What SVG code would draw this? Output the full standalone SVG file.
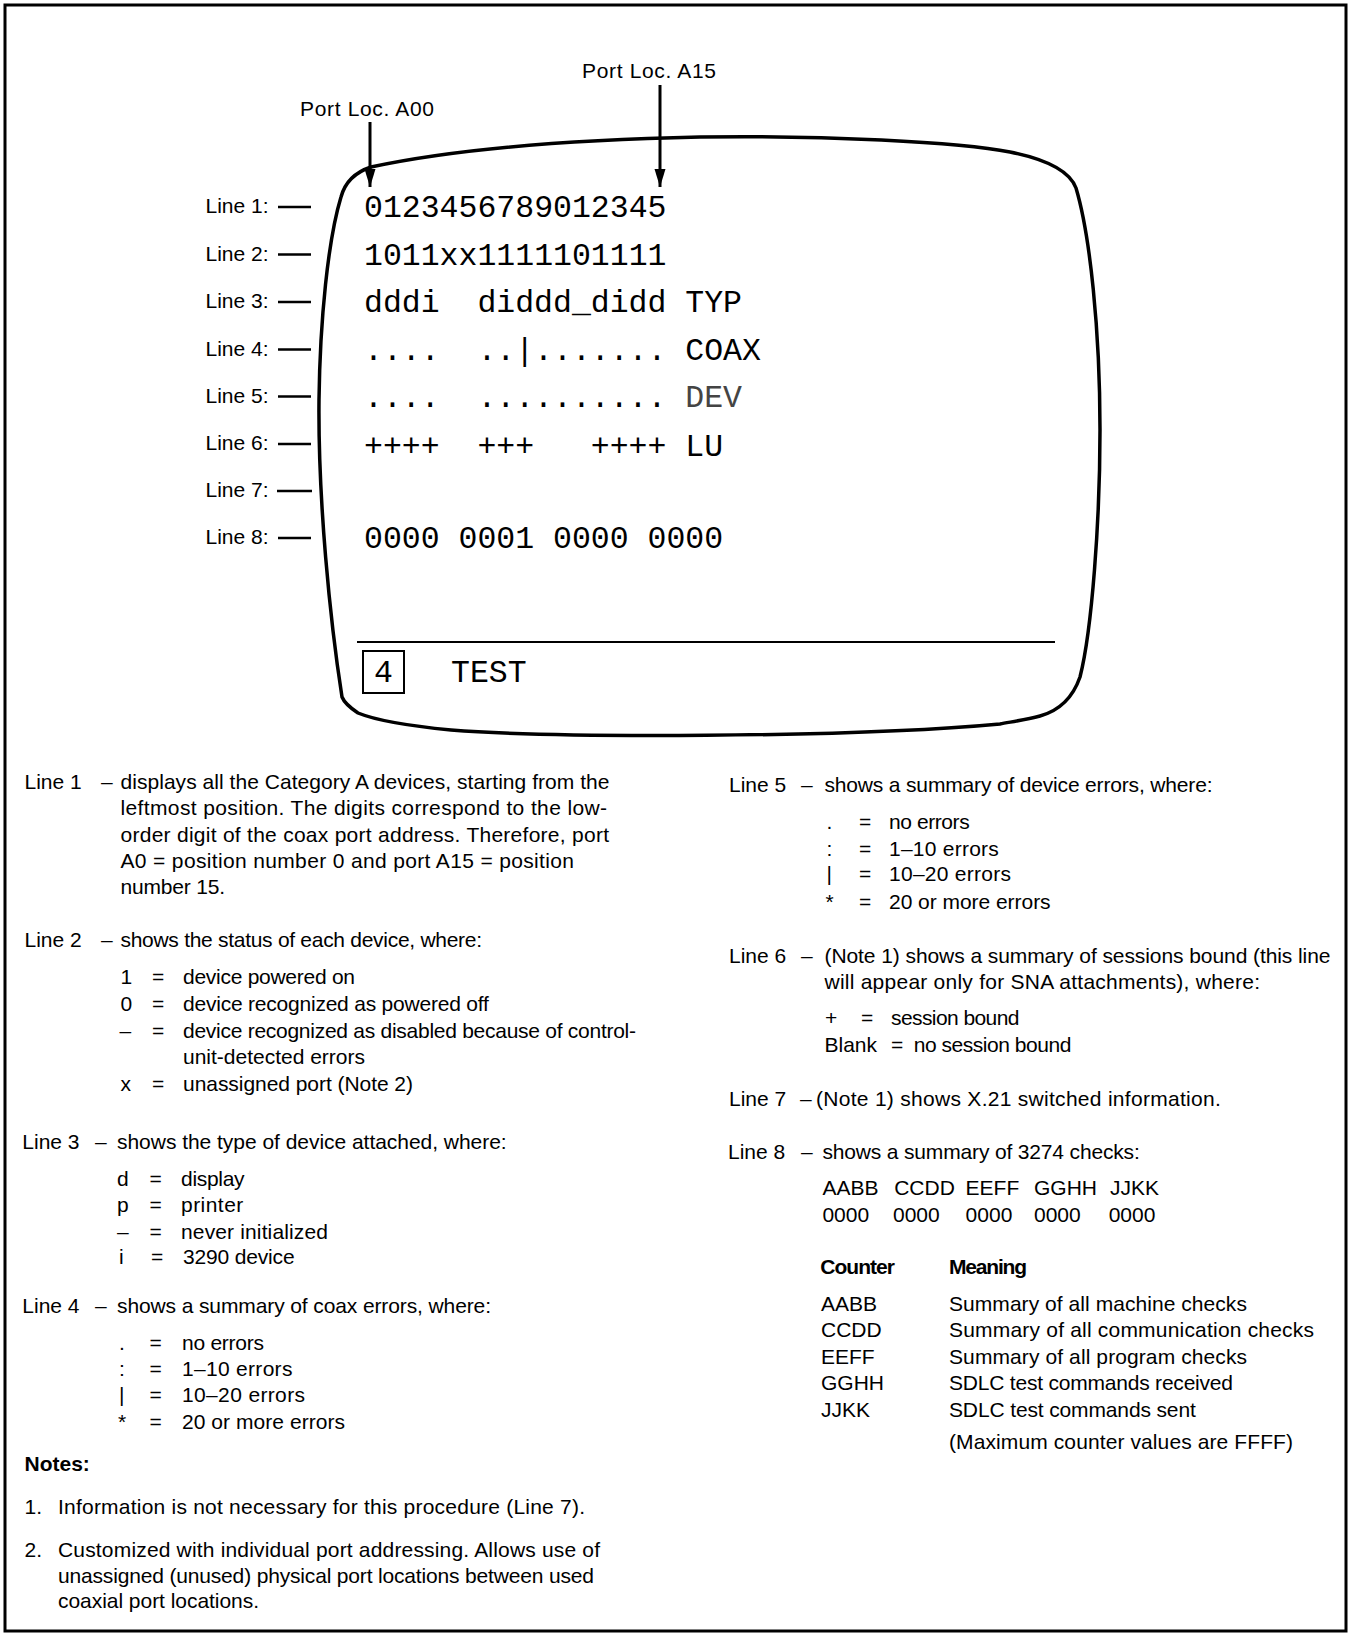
<svg xmlns="http://www.w3.org/2000/svg" width="1350" height="1634" viewBox="0 0 1350 1634">
<style>
.b{font-family:"Liberation Sans",Arial,sans-serif;font-size:21px;fill:#000}
.bb{font-family:"Liberation Sans",Arial,sans-serif;font-size:21px;font-weight:bold;fill:#000}
.lb{font-family:"Liberation Sans",Arial,sans-serif;font-size:21px;fill:#000}
.m{font-family:"Liberation Mono","Courier New",monospace;font-size:31.5px;fill:#000}
.tick{stroke:#000;stroke-width:2.5}
.arr{stroke:#000;stroke-width:3;fill:none;marker-end:url(#ah)}
</style>
<defs>
<marker id="ah" markerUnits="userSpaceOnUse" markerWidth="20" markerHeight="12" refX="18" refY="6" orient="auto">
<path d="M0,0.5 L18,6 L0,11.5 z" fill="#000"/>
</marker>
</defs>
<rect width="1350" height="1634" fill="#fff"/>
<rect x="5" y="5" width="1341" height="1626" fill="none" stroke="#000" stroke-width="3"/>

<g id="screen">
<path d="M 341,197 C 345,182 356,172 371,167 C 450,150 560,140 700,137 C 820,135 960,142 1010,152 C 1050,160 1070,172 1076,188 C 1090,235 1100,330 1100,430 C 1100,520 1092,630 1080,677 C 1072,700 1058,711 1040,716 C 1025,720 1010,722 1000,724 C 850,738 550,738 451,730 C 410,726 375,720 358,713 C 349,707 344,702 342,697 C 330,620 318,500 319,400 C 320,320 328,240 341,197 Z" fill="none" stroke="#000" stroke-width="3.5"/>
<line x1="357" y1="642" x2="1055" y2="642" stroke="#000" stroke-width="2"/>
<rect x="363" y="651" width="41" height="42" fill="none" stroke="#000" stroke-width="2"/>
<text class="m" x="383.5" y="682" text-anchor="middle" font-size="29">4</text>
<text class="m" x="451" y="682" font-size="30">TEST</text>
<text class="m" x="364" y="216.5">0123456789012345</text>
<text class="m" x="364" y="265">1011xx1111101111</text>
<text class="m" x="364" y="311.5">dddi</text>
<text class="m" x="477.4" y="311.5">diddd_didd</text>
<text class="m" x="685.3" y="311.5">TYP</text>
<text class="m" x="364" y="360">....</text>
<text class="m" x="477.4" y="360">..|.......</text>
<text class="m" x="685.3" y="360">COAX</text>
<text class="m" x="364" y="407">....</text>
<text class="m" x="477.4" y="407">..........</text>
<text class="m" x="685.3" y="407" style="fill:#444">DEV</text>
<text class="m" x="364" y="456">++++</text>
<text class="m" x="477.4" y="456">+++</text>
<text class="m" x="590.8" y="456">++++</text>
<text class="m" x="685.3" y="456">LU</text>
<text class="m" x="364" y="548">0000 0001 0000 0000</text>
</g>

<g id="port-a00-label"><text class="b" x="300" y="116" textLength="134">Port Loc. A00</text></g>
<g id="port-a15-label"><text class="b" x="582" y="78" textLength="134">Port Loc. A15</text></g>

<g id="line-labels">
<text class="lb" x="205.5" y="213">Line 1:</text>
<text class="lb" x="205.5" y="260.5">Line 2:</text>
<text class="lb" x="205.5" y="308">Line 3:</text>
<text class="lb" x="205.5" y="355.5">Line 4:</text>
<text class="lb" x="205.5" y="402.5">Line 5:</text>
<text class="lb" x="205.5" y="450">Line 6:</text>
<text class="lb" x="205.5" y="497">Line 7:</text>
<text class="lb" x="205.5" y="544">Line 8:</text>
</g>

<g id="connectors">
<line class="arr" x1="370" y1="122" x2="370" y2="187"/>
<line class="arr" x1="660" y1="85" x2="660" y2="187"/>
<line class="tick" x1="278" y1="207" x2="311" y2="207"/>
<line class="tick" x1="278" y1="254.5" x2="311" y2="254.5"/>
<line class="tick" x1="278" y1="302" x2="311" y2="302"/>
<line class="tick" x1="278" y1="349.5" x2="311" y2="349.5"/>
<line class="tick" x1="278" y1="396.5" x2="311" y2="396.5"/>
<line class="tick" x1="278" y1="444" x2="311" y2="444"/>
<line class="tick" x1="277" y1="491" x2="312" y2="491"/>
<line class="tick" x1="278" y1="538" x2="311" y2="538"/>
</g>

<g id="legend-line1">
<text class="b" x="24.5" y="789">Line 1</text>
<text class="b" x="101" y="789">–</text>
<text class="b" x="120.5" y="789" textLength="489">displays all the Category A devices, starting from the</text>
<text class="b" x="120.5" y="815" textLength="486.5">leftmost position.  The digits correspond to the low-</text>
<text class="b" x="120.5" y="841.5" textLength="488.5">order digit of the coax port address.  Therefore, port</text>
<text class="b" x="120.5" y="868" textLength="453.5">A0 = position number 0 and port A15 = position</text>
<text class="b" x="120.5" y="894" textLength="104.5">number 15.</text>
</g>

<g id="legend-line2">
<text class="b" x="24.5" y="947">Line 2</text>
<text class="b" x="101" y="947">–</text>
<text class="b" x="120.5" y="947" textLength="361.5">shows the status of each device, where:</text>
<text class="b" x="120.5" y="983.5">1</text>
<text class="b" x="152" y="983.5">=</text>
<text class="b" x="183" y="983.5" textLength="172">device powered on</text>
<text class="b" x="120.5" y="1010.5">0</text>
<text class="b" x="152" y="1010.5">=</text>
<text class="b" x="183" y="1010.5" textLength="305.8">device recognized as powered off</text>
<text class="b" x="119.5" y="1037.5">–</text>
<text class="b" x="152" y="1037.5">=</text>
<text class="b" x="183" y="1037.5" textLength="453">device recognized as disabled because of control-</text>
<text class="b" x="183" y="1064" textLength="182">unit-detected errors</text>
<text class="b" x="120.5" y="1091">x</text>
<text class="b" x="152" y="1091">=</text>
<text class="b" x="183" y="1091" textLength="230">unassigned port (Note 2)</text>
</g>

<g id="legend-line3">
<text class="b" x="22.3" y="1149">Line 3</text>
<text class="b" x="95" y="1149">–</text>
<text class="b" x="117" y="1149" textLength="389.7">shows the type of device attached, where:</text>
<text class="b" x="117" y="1185.5">d</text>
<text class="b" x="149.5" y="1185.5">=</text>
<text class="b" x="181" y="1185.5" textLength="63.6">display</text>
<text class="b" x="117" y="1212">p</text>
<text class="b" x="149.5" y="1212">=</text>
<text class="b" x="181" y="1212" textLength="62.3">printer</text>
<text class="b" x="117" y="1238.5">–</text>
<text class="b" x="149.5" y="1238.5">=</text>
<text class="b" x="181" y="1238.5" textLength="147">never initialized</text>
<text class="b" x="119" y="1264">i</text>
<text class="b" x="151" y="1264">=</text>
<text class="b" x="183" y="1264" textLength="111.6">3290 device</text>
</g>

<g id="legend-line4">
<text class="b" x="22.3" y="1312.5">Line 4</text>
<text class="b" x="95" y="1312.5">–</text>
<text class="b" x="117" y="1312.5" textLength="374">shows a summary of coax errors, where:</text>
<text class="b" x="119" y="1350">.</text>
<text class="b" x="149.5" y="1350">=</text>
<text class="b" x="182" y="1350" textLength="82">no errors</text>
<text class="b" x="119" y="1376">:</text>
<text class="b" x="149.5" y="1376">=</text>
<text class="b" x="182" y="1376" textLength="110.4">1–10 errors</text>
<text class="b" x="119" y="1402">|</text>
<text class="b" x="149.5" y="1402">=</text>
<text class="b" x="182" y="1402" textLength="123">10–20 errors</text>
<text class="b" x="118" y="1428.5">*</text>
<text class="b" x="149.5" y="1428.5">=</text>
<text class="b" x="182" y="1428.5" textLength="163">20 or more errors</text>
</g>

<g id="notes">
<text class="bb" x="24.5" y="1471">Notes:</text>
<text class="b" x="24.5" y="1514">1.</text>
<text class="b" x="58" y="1514" textLength="527">Information is not necessary for this procedure (Line 7).</text>
<text class="b" x="24.5" y="1557">2.</text>
<text class="b" x="58" y="1557" textLength="542">Customized with individual port addressing.  Allows use of</text>
<text class="b" x="58" y="1582.5" textLength="536">unassigned (unused) physical port locations between used</text>
<text class="b" x="58" y="1608" textLength="201">coaxial port locations.</text>
</g>

<g id="legend-line5">
<text class="b" x="729" y="792">Line 5</text>
<text class="b" x="801" y="792">–</text>
<text class="b" x="824.5" y="792" textLength="388">shows a summary of device errors, where:</text>
<text class="b" x="826.6" y="829">.</text>
<text class="b" x="859" y="829">=</text>
<text class="b" x="889" y="829" textLength="80.7">no errors</text>
<text class="b" x="826.6" y="855.5">:</text>
<text class="b" x="859" y="855.5">=</text>
<text class="b" x="889" y="855.5" textLength="109.8">1–10 errors</text>
<text class="b" x="826.6" y="880.5">|</text>
<text class="b" x="859" y="880.5">=</text>
<text class="b" x="889" y="880.5" textLength="122">10–20 errors</text>
<text class="b" x="825.5" y="908.5">*</text>
<text class="b" x="859" y="908.5">=</text>
<text class="b" x="889" y="908.5" textLength="161.6">20 or more errors</text>
</g>

<g id="legend-line6">
<text class="b" x="729" y="962.5">Line 6</text>
<text class="b" x="801" y="962.5">–</text>
<text class="b" x="824.5" y="962.5" textLength="506">(Note 1) shows a summary of sessions bound (this line</text>
<text class="b" x="824.5" y="988.5" textLength="435.5">will appear only for SNA attachments), where:</text>
<text class="b" x="825" y="1025">+</text>
<text class="b" x="861" y="1025">=</text>
<text class="b" x="891" y="1025" textLength="128.5">session bound</text>
<text class="b" x="824.5" y="1051.5">Blank</text>
<text class="b" x="891" y="1051.5">=</text>
<text class="b" x="913.7" y="1051.5" textLength="157.7">no session bound</text>
</g>

<g id="legend-line7">
<text class="b" x="729" y="1105.5">Line 7</text>
<text class="b" x="800" y="1105.5">–</text>
<text class="b" x="816" y="1105.5" textLength="404.8">(Note 1) shows X.21 switched information.</text>
</g>

<g id="legend-line8">
<text class="b" x="728" y="1158.5">Line 8</text>
<text class="b" x="801" y="1158.5">–</text>
<text class="b" x="822.4" y="1158.5" textLength="317.4">shows a summary of 3274 checks:</text>
<text class="b" x="822.4" y="1195">AABB</text>
<text class="b" x="894.2" y="1195">CCDD</text>
<text class="b" x="965.6" y="1195">EEFF</text>
<text class="b" x="1034" y="1195">GGHH</text>
<text class="b" x="1110" y="1195">JJKK</text>
<text class="b" x="822.4" y="1221.5">0000</text>
<text class="b" x="893" y="1221.5">0000</text>
<text class="b" x="965.6" y="1221.5">0000</text>
<text class="b" x="1034" y="1221.5">0000</text>
<text class="b" x="1108.7" y="1221.5">0000</text>
</g>

<g id="counter-table">
<text class="bb" x="820.3" y="1274" textLength="74.7">Counter</text>
<text class="bb" x="949" y="1274" textLength="78">Meaning</text>
<text class="b" x="821" y="1310.5">AABB</text>
<text class="b" x="949" y="1310.5" textLength="297.9">Summary of all machine checks</text>
<text class="b" x="821" y="1337">CCDD</text>
<text class="b" x="949" y="1337" textLength="365">Summary of all communication checks</text>
<text class="b" x="821" y="1363.5">EEFF</text>
<text class="b" x="949" y="1363.5" textLength="298">Summary of all program checks</text>
<text class="b" x="821" y="1390">GGHH</text>
<text class="b" x="949" y="1390" textLength="284">SDLC test commands received</text>
<text class="b" x="821" y="1417">JJKK</text>
<text class="b" x="949" y="1417" textLength="246.8">SDLC test commands sent</text>
<text class="b" x="949" y="1449" textLength="344">(Maximum counter values are FFFF)</text>
</g>
</svg>
